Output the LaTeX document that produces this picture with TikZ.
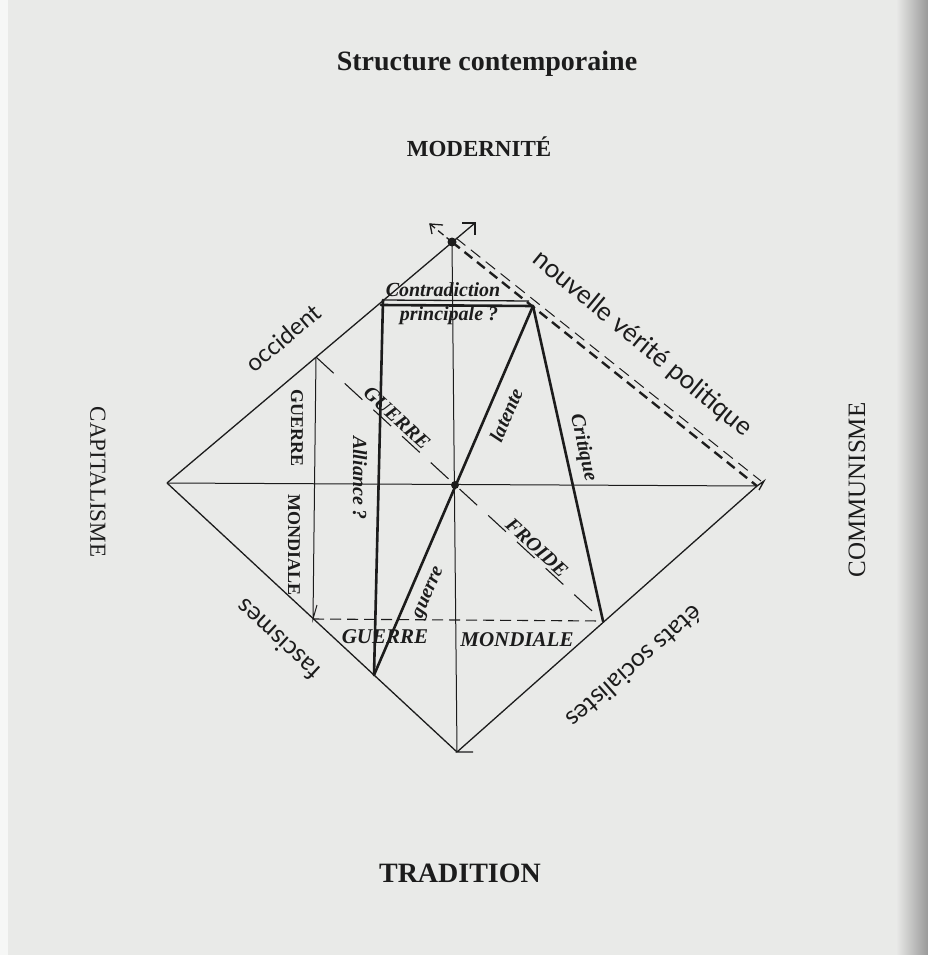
\documentclass[tikz,border=0pt]{standalone}
\usepackage{fontspec}
\setmainfont{Liberation Serif}
\newfontfamily\sansf{Lato}
\usetikzlibrary{calc}
\definecolor{bg}{RGB}{233,234,232}
\definecolor{ink}{RGB}{28,28,28}
\begin{document}
\begin{tikzpicture}[x=1pt,y=-1pt,
  edgeline/.style={draw=ink,line width=1.3pt},
  thinline/.style={draw=ink,line width=1pt},
  heavy/.style={draw=ink,line width=2.6pt,line cap=round},
  hdash/.style={draw=ink,line width=1.1pt,dash pattern=on 11pt off 6pt},
  longdash/.style={draw=ink,line width=1.1pt,dash pattern=on 24pt off 15pt},
  dblthick/.style={draw=ink,line width=2.4pt,dash pattern=on 10pt off 6pt},
  dblthin/.style={draw=ink,line width=1pt,dash pattern=on 12pt off 7pt},
  ital/.style={font=\fontsize{20}{21}\selectfont\bfseries\itshape,text=ink,inner sep=0pt},
  capsv/.style={font=\fontsize{18}{19}\selectfont\bfseries,text=ink,inner sep=0pt},
  edgelab/.style={font=\sansf\fontsize{24}{26}\selectfont,text=ink,inner sep=0pt},
  pole/.style={font=\fontsize{23}{25}\selectfont,text=ink,inner sep=0pt},
  titlelab/.style={font=\fontsize{28}{30}\selectfont\bfseries,text=ink,inner sep=0pt}
]
\path[fill=bg] (0,0) rectangle (928,955);
\shade[left color=bg,right color=black!40] (896,0) rectangle (928,955);
\fill[white!60!bg] (0,0) rectangle (8,955);

% main points
\coordinate (T) at (452,242);
\coordinate (B) at (457,752);
\coordinate (L) at (167,483);
\coordinate (R) at (757,486);
\coordinate (C) at (455,485);
\coordinate (A1) at (383,300);
\coordinate (A2) at (381,305);
\coordinate (K) at (533,306);
\coordinate (K1) at (529,301);
\coordinate (D) at (374,675);
\coordinate (E) at (603,621);
\coordinate (F) at (313,619);
\coordinate (G) at (316,357);
\coordinate (UR) at (475,223);
\coordinate (URa) at (462,223);
\coordinate (URb) at (475,235);
\coordinate (UL) at (430,224);
\coordinate (ULa) at (443,225);
\coordinate (ULb) at (432,234);
\coordinate (Ta) at (456,238);
\coordinate (Ra) at (761,481);
\coordinate (Bt) at (473,752);
\coordinate (Fb) at (317,605);
\coordinate (Rh1) at (764,481);
\coordinate (Rh2) at (759,490);

% diamond and axes
\draw[edgeline] (L) -- (UR);
\draw[edgeline] (L) -- (B);
\draw[edgeline] (R) -- (B) -- (Bt);
\draw[edgeline] (URa) -- (UR) -- (URb);
\draw[thinline] (L) -- (R);
\draw[thinline] (T) -- (B);

% double dashed edge
\draw[dblthick] (T) -- (R);
\draw[dblthin] (Ta) -- (Ra);
\draw[edgeline,dash pattern=on 7pt off 4pt] (T) -- (UL);
\draw[edgeline] (ULa) -- (UL) -- (ULb);
\draw[edgeline] (R) -- (Rh1) -- (Rh2);

% inner frame
\draw[edgeline] (A1) -- (K1);
\draw[heavy] (A2) -- (K);
\draw[heavy] (A1) -- (D);
\draw[heavy] (K) -- (D);
\draw[heavy] (K) -- (E);
\draw[hdash] (F) -- (E);
\draw[thinline] (G) -- (F) -- (Fb);
\draw[longdash] (G) -- (E);

\fill[ink] (T) circle (4.5);
\fill[ink] (C) circle (4);

% outer labels
\node[titlelab] (title) at (487,64) {Structure contemporaine};
\node[pole,font=\fontsize{23}{25}\selectfont\bfseries] (mod) at (479,147) {MODERNITÉ};
\node[pole,font=\fontsize{28}{30}\selectfont\bfseries] (trad) at (460,873) {TRADITION};
\node[pole,rotate=-90] (cap) at (98,482) {CAPITALISME};
\node[pole,font=\fontsize{25}{27}\selectfont,rotate=90] (com) at (857,490) {COMMUNISME};

\node[edgelab,rotate=40.2] (occ) at (283,338) {occident};
\node[edgelab,font=\sansf\fontsize{26}{28}\selectfont,rotate=-39.6] (nvp) at (642,344) {nouvelle vérité politique};
\node[edgelab,font=\sansf\fontsize{25}{27}\selectfont,rotate=137.2] (fas) at (278,640) {fascismes};
\node[edgelab,font=\sansf\fontsize{25}{27}\selectfont,rotate=221.4] (eta) at (635,667) {états socialistes};

% inner labels
\node[ital] (contr) at (443,290) {Contradiction};
\node[ital] (princ) at (449,316) {principale ?};
\node[capsv,rotate=-90] (gv) at (297,428) {GUERRE};
\node[capsv,rotate=-90] (mv) at (294,545) {MONDIALE};
\node[ital,rotate=-42.6] (gd) at (397,418) {GUERRE};
\node[ital,rotate=-42.6] (fr) at (537,548) {FROIDE};
\node[ital,rotate=-90] (all) at (360,478) {Alliance ?};
\node[ital,rotate=66.7] (lat) at (506,415) {latente};
\node[ital,rotate=-77.4] (cri) at (583,448) {Critique};
\node[ital,rotate=66.7] (gue) at (430,593) {guerre};
\node[ital,font=\fontsize{21}{22}\selectfont\bfseries\itshape] (gh) at (385,637) {GUERRE};
\node[ital,font=\fontsize{21}{22}\selectfont\bfseries\itshape] (mh) at (517,640) {MONDIALE};
\end{tikzpicture}
\end{document}
